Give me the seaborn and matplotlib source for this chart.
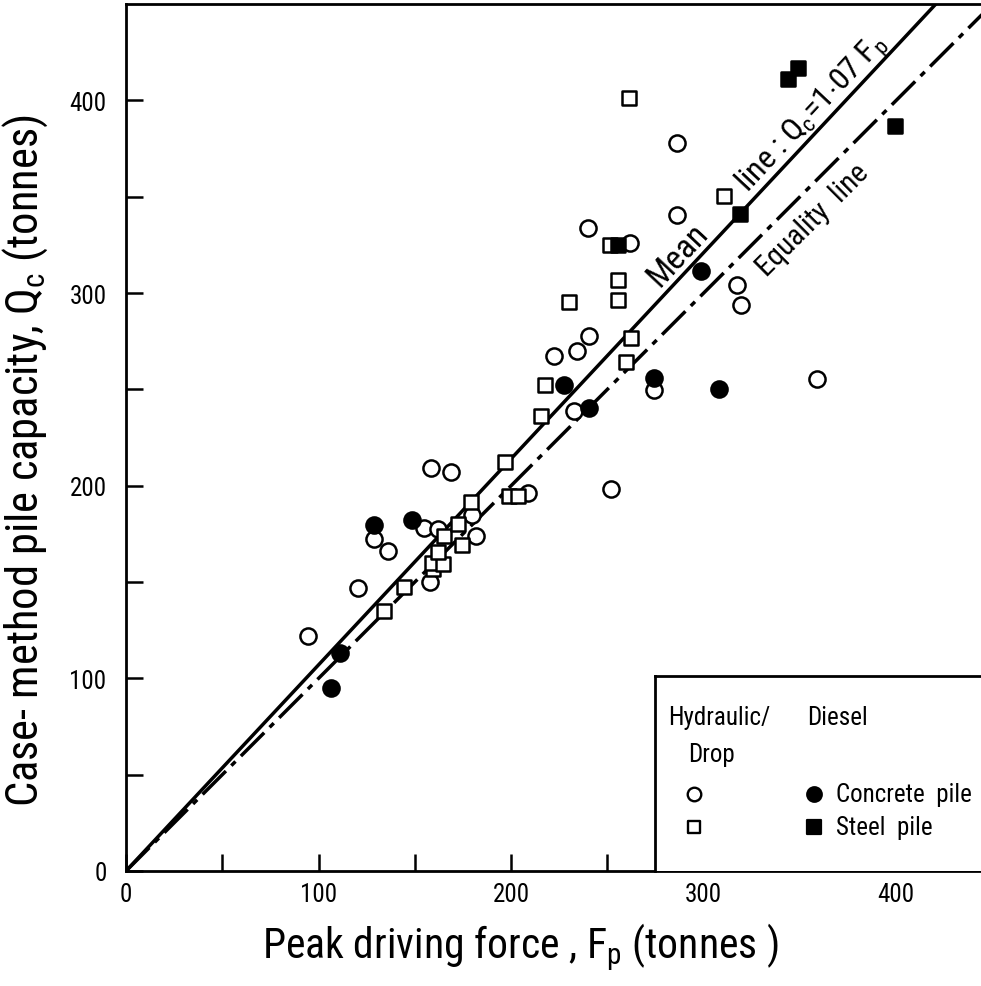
import numpy as np
import pandas as pd
import matplotlib
matplotlib.use("Agg")
import matplotlib.pyplot as plt
import matplotlib.font_manager as fm
import seaborn as sns

# ---------------- data ----------------
# Hydraulic / Drop hammer, concrete pile (open circles)
hd_conc_x = [94.5, 120.5, 128.8, 136.1, 158.4, 168.8, 154.8, 162.1, 157.9, 179.7,
             181.8, 208.8, 222.3, 234.3, 240.5, 240.0, 232.7, 252.0, 261.8, 286.2,
             286.2, 274.3, 317.4, 319.5, 358.9]
hd_conc_y = [122.1, 147.0, 172.5, 166.2, 209.4, 207.3, 178.2, 177.7, 150.1, 184.9,
             174.0, 196.4, 267.5, 270.1, 277.9, 333.5, 239.0, 198.4, 326.2, 377.7,
             340.3, 249.4, 303.9, 294.0, 255.6]
# Diesel hammer, concrete pile (filled circles)
di_conc_x = [106.5, 111.2, 128.8, 148.6, 227.5, 240.5, 274.3, 298.7, 308.1]
di_conc_y = [95.1, 113.2, 179.7, 182.3, 252.5, 240.5, 256.1, 311.2, 250.4]
# Hydraulic / Drop hammer, steel pile (open squares)
hd_steel_x = [134.0, 144.4, 159.5, 159.0, 164.7, 162.1, 174.5, 165.2, 172.5, 179.2,
              196.9, 199.0, 203.6, 215.6, 217.7, 230.1, 251.4, 255.6, 255.6, 259.7,
              262.3, 261.3, 310.6]
hd_steel_y = [135.1, 147.5, 156.9, 160.0, 159.5, 165.7, 169.4, 174.0, 180.3, 191.7,
              212.5, 194.8, 194.8, 236.4, 252.5, 295.1, 324.7, 307.0, 296.6, 264.4,
              276.9, 401.0, 350.6]
# Diesel hammer, steel pile (filled squares)
di_steel_x = [255.6, 319.0, 343.9, 349.1, 399.5]
di_steel_y = [324.7, 340.8, 410.9, 416.6, 386.5]

mean_slope = 1.07
equality_slope = 1.0
line_x = [0, 460]

x_ticks = [0, 100, 200, 300, 400]
y_ticks = [0, 100, 200, 300, 400]

# ---------------- style ----------------
sns.set_theme(style="ticks")

# pick a narrow / condensed sans face if one is installed
entries = fm.fontManager.ttflist
FONT = None
STRETCH = "normal"
for key in ["Roboto Condensed", "Liberation Sans Narrow", "Open Sans Condensed",
            "Noto Sans Condensed", "DejaVu Sans Condensed"]:
    if any(f.name == key for f in entries):
        FONT = key
        break
if FONT is None:
    for f in entries:
        if ("Narrow" in f.name or "Condensed" in f.name) and "Mono" not in f.name \
                and "Serif" not in f.name and "CJK" not in f.name:
            FONT = f.name
            break
if FONT is None:
    for fam in ["DejaVu Sans", "Noto Sans", "Roboto", "Open Sans"]:
        if any(f.name == fam and str(f.stretch) in ("condensed", "semi-condensed",
                                                    "extra-condensed") for f in entries):
            FONT = fam
            STRETCH = "condensed"
            break
if FONT is None:
    FONT = "DejaVu Sans"

plt.rcParams["font.family"] = [FONT, "DejaVu Sans"]
plt.rcParams["font.stretch"] = STRETCH
plt.rcParams["mathtext.fontset"] = "custom"
plt.rcParams["mathtext.rm"] = FONT
plt.rcParams["mathtext.it"] = FONT
for k in ["text.color", "axes.labelcolor", "xtick.color", "ytick.color", "axes.edgecolor"]:
    plt.rcParams[k] = "black"

fig = plt.figure(figsize=(9.81, 9.87), dpi=100)
ax = fig.add_axes([126 / 981, 115 / 987, 1 - 126 / 981, (872 - 5) / 987])

# lines
lx = np.array(line_x, dtype=float)
ax.plot(lx, mean_slope * lx, color="black", lw=2.5, solid_capstyle="butt", zorder=2)
ax.plot(lx, equality_slope * lx, color="black", lw=2.5,
        dashes=(9.5, 2.2, 1.7, 2.2), zorder=2)

# points
mk = dict(edgecolor="black", linewidth=1.8, zorder=3, ax=ax, legend=False)
sns.scatterplot(x=hd_conc_x, y=hd_conc_y, marker="o", s=135, color="white", **mk)
sns.scatterplot(x=di_conc_x, y=di_conc_y, marker="o", s=135, color="black", **mk)
sns.scatterplot(x=hd_steel_x, y=hd_steel_y, marker="s", s=100, color="white", **mk)
sns.scatterplot(x=di_steel_x, y=di_steel_y, marker="s", s=100, color="black", **mk)

ax.set_xlim(0, 444)
ax.set_ylim(0, 450)
ax.set_xticks(x_ticks)
ax.set_yticks(y_ticks)
ax.set_xticks([50, 150, 250, 350], minor=True)
ax.set_yticks([50, 150, 250, 350], minor=True)
ax.tick_params(which="both", direction="in", length=12, width=1.8, color="black",
               top=False, right=False)
ax.tick_params(axis="y", which="major", labelsize=18, pad=14)
ax.tick_params(axis="x", which="major", labelsize=18, pad=8)
for s in ["left", "bottom", "top"]:
    ax.spines[s].set_linewidth(2.0)
    ax.spines[s].set_color("black")
ax.spines["right"].set_visible(False)

ax.set_xlabel(r"Peak driving force , F$_\mathrm{p}$ (tonnes )", fontsize=30, labelpad=10)
ax.set_ylabel(r"Case- method pile capacity, Q$_\mathrm{c}$ (tonnes)", fontsize=32, labelpad=14)
ax.xaxis.label.set_x(0.461)
ax.yaxis.label.set_y(0.474)

# rotated annotations along the lines
fig.canvas.draw()
def disp_angle(slope):
    p0 = ax.transData.transform((100, 100 * slope))
    p1 = ax.transData.transform((300, 300 * slope))
    return np.degrees(np.arctan2(p1[1] - p0[1], p1[0] - p0[0]))

a_mean = disp_angle(mean_slope)
a_eq = disp_angle(equality_slope)

txt = dict(rotation_mode="anchor", ha="center", va="center", zorder=4)
ax.text(286.8, 320.0, "Mean", fontsize=24, rotation=a_mean, **txt)
ax.text(356.8, 393.5, r"line : Q$_\mathrm{c}$=1$\cdot$07 F$_\mathrm{p}$",
        fontsize=23, rotation=a_mean, **txt)
ax.text(356.7, 338.0, "Equality  line", fontsize=21, rotation=a_eq, **txt)

# legend panel
lg = ax.inset_axes([274.8 / 444, 0, 1 - 274.8 / 444, 101.3 / 450])
lg.set_xlim(0, 1)
lg.set_ylim(0, 1)
lg.set_xticks([])
lg.set_yticks([])
lg.set_facecolor("white")
lg.spines["left"].set_linewidth(2.0)
lg.spines["top"].set_linewidth(2.0)
lg.spines["right"].set_visible(False)
lg.spines["bottom"].set_visible(False)
lg.set_zorder(5)
fs = 18
lg.text(0.04, 0.79, "Hydraulic/", fontsize=fs, va="center", ha="left")
lg.text(0.465, 0.79, "Diesel", fontsize=fs, va="center", ha="left")
lg.text(0.10, 0.60, "Drop", fontsize=fs, va="center", ha="left")
lg.text(0.555, 0.395, "Concrete  pile", fontsize=fs, va="center", ha="left")
lg.text(0.555, 0.226, "Steel  pile", fontsize=fs, va="center", ha="left")
lg.scatter([0.119], [0.395], marker="o", s=95, facecolor="white", edgecolor="black", linewidth=1.7)
lg.scatter([0.486], [0.395], marker="o", s=110, facecolor="black", edgecolor="black", linewidth=1.6)
lg.scatter([0.119], [0.226], marker="s", s=80, facecolor="white", edgecolor="black", linewidth=1.7)
lg.scatter([0.486], [0.226], marker="s", s=90, facecolor="black", edgecolor="black", linewidth=1.6)

fig.savefig("out.png", dpi=100, facecolor="white")
